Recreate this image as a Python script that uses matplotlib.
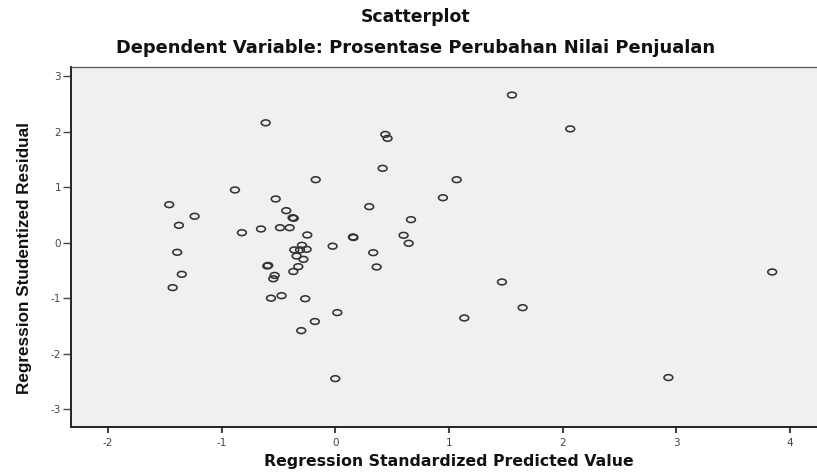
import matplotlib
matplotlib.use("Agg")
import matplotlib.pyplot as plt
import numpy as np
from matplotlib.path import Path
from matplotlib.transforms import Affine2D

# Regression standardized predicted value (x) and studentized residual (y)
pred_value = [
    -0.612, -0.172, -0.882, -1.460, -0.524, -0.431, -0.375, -0.365, -1.237, -1.375,
    -0.821, -0.653, -0.486, -0.401, -0.246, -0.023, 0.156, 0.160, -1.390, 0.417,
    1.068, 0.947, 0.299, 0.666, 0.601, 0.646, 0.334, 0.364, -0.360, -0.293,
    -0.252, -0.310, -0.340, -0.280, -0.325, -0.369, -0.598, -0.590, -0.533, -0.545,
    -0.565, -0.472, -0.264, 0.018, -0.179, -0.299, 1.135, 1.554, 2.067, 3.843,
    1.466, 1.648, 0.440, 0.460, -1.350, -1.430, 0.000, 2.930,
]
stud_residual = [
    2.160, 1.135, 0.950, 0.685, 0.787, 0.577, 0.450, 0.440, 0.476, 0.313,
    0.180, 0.247, 0.270, 0.270, 0.139, -0.063, 0.103, 0.093, -0.173, 1.340,
    1.135, 0.810, 0.649, 0.415, 0.133, -0.011, -0.180, -0.438, -0.130, -0.047,
    -0.120, -0.130, -0.240, -0.300, -0.432, -0.520, -0.420, -0.410, -0.590, -0.650,
    -1.000, -0.955, -1.010, -1.260, -1.420, -1.585, -1.357, 2.660, 2.050, -0.528,
    -0.708, -1.171, 1.950, 1.880, -0.570, -0.810, -2.450, -2.430,
]
x_ticks = [-2, -1, 0, 1, 2, 3, 4]
y_ticks = [-3, -2, -1, 0, 1, 2, 3]

plt.rcParams['font.family'] = ['DejaVu Sans']
plt.rcParams['axes.unicode_minus'] = False

fig = plt.figure(figsize=(8.17, 4.72), dpi=100)
ax = fig.add_axes([0.0865, 0.0943, 0.9135, 0.7644])
ax.set_facecolor('#F0F0F0')

# slightly wide ellipse marker (as in the reference)
circ = Path.unit_circle()
ell = circ.transformed(Affine2D().scale(1.0, 0.66))

ax.scatter(pred_value, stud_residual, marker=ell, s=40, facecolors='none',
           edgecolors='#333333', linewidths=1.15, zorder=3)

ax.set_xlim(-2.327, 4.237)
ax.set_ylim(-3.33, 3.171)
ax.set_xticks(x_ticks)
ax.set_yticks(y_ticks)
ax.tick_params(axis='x', direction='out', length=4.3, width=1.5, colors='#444444',
               labelsize=7.5, labelcolor='#444444', pad=3)
ax.tick_params(axis='y', direction='out', length=6, width=1.0, colors='#444444',
               labelsize=7.5, labelcolor='#444444', pad=1)

ax.spines['right'].set_visible(False)
ax.spines['top'].set_linewidth(0.9)
ax.spines['top'].set_color('#555555')
for side in ['left', 'bottom']:
    ax.spines[side].set_linewidth(1.4)
    ax.spines[side].set_color('#222222')

ax.set_xlabel('Regression Standardized Predicted Value', fontsize=11.3,
              fontweight='bold', color='#111111', va='top')
ax.xaxis.set_label_coords(0.507, -0.074)
ax.set_ylabel('Regression Studentized Residual',
              family=['Liberation Sans', 'DejaVu Sans'],
              fontsize=12.3, fontweight='bold', color='#111111')
ax.yaxis.set_label_coords(-0.052, 0.47)

fig.text(0.509, 0.963, 'Scatterplot', ha='center', va='center',
         fontsize=12.4, fontweight='bold', color='#111111')
fig.text(0.509, 0.899, 'Dependent Variable: Prosentase Perubahan Nilai Penjualan',
         ha='center', va='center', fontsize=12.9, fontweight='bold', color='#111111')

fig.savefig('out.png', dpi=100)
